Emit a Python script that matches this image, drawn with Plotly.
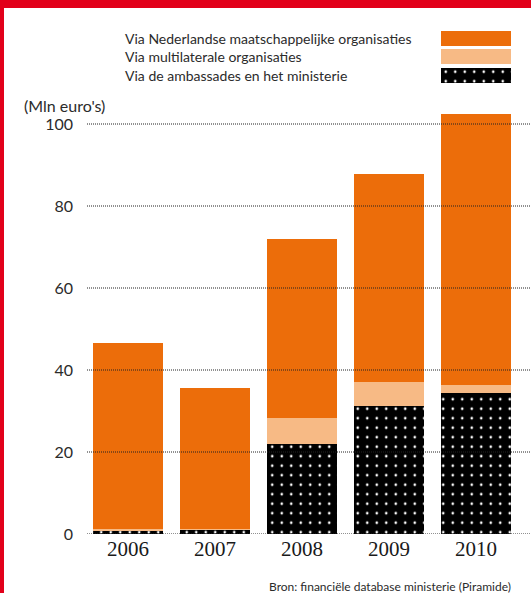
import plotly.graph_objects as go

W, H = 531, 593

years = ["2006", "2007", "2008", "2009", "2010"]
ambassades = [0.8, 1.0, 21.9, 31.2, 34.4]
multilateraal = [0.4, 0.2, 6.4, 5.9, 1.9]
ngo = [45.4, 34.4, 43.7, 50.7, 66.1]
y_ticks = [0, 20, 40, 60, 80, 100]

legend_names = [
    "Via Nederlandse maatschappelijke organisaties",
    "Via multilaterale organisaties",
    "Via de ambassades en het ministerie",
]

ORANGE = "#EC6D0A"
LIGHT = "#F7BA85"
RED = "#E2001A"
TEXT = "#2b2b2b"
DOTS = dict(shape=".", fgcolor="white", bgcolor="black", size=9.5, solidity=0.06, fillmode="replace")


def xp(px):
    return px / W


def yp(py):
    return 1 - py / H


fig = go.Figure()

# stacked bars, bottom to top
fig.add_trace(go.Bar(x=years, y=ambassades, marker=dict(color="black", pattern=DOTS, line=dict(width=0)),
                     name=legend_names[2], showlegend=False))
fig.add_trace(go.Bar(x=years, y=multilateraal, marker=dict(color=LIGHT, line=dict(width=0)),
                     name=legend_names[1], showlegend=False))
fig.add_trace(go.Bar(x=years, y=ngo, marker=dict(color=ORANGE, line=dict(width=0)),
                     name=legend_names[0], showlegend=False))

# legend swatches on their own small axes (text on the left, swatch on the right)
swatch_markers = [
    dict(color=ORANGE, line=dict(width=0)),
    dict(color=LIGHT, line=dict(width=0)),
    dict(color="black", pattern=DOTS, line=dict(width=0)),
]
for i, (name, mk) in enumerate(zip(legend_names, swatch_markers)):
    fig.add_trace(go.Bar(x=[1], y=[i], orientation="h", width=0.81, marker=mk, xaxis="x2", yaxis="y2",
                         showlegend=False, hoverinfo="skip"))
    fig.add_annotation(text=name, xref="paper", yref="y2", x=xp(123), y=i, xanchor="left", yanchor="middle",
                       showarrow=False, font=dict(family="Lato", size=14, color=TEXT))

# dotted gridlines drawn over the bars
for t in y_ticks:
    fig.add_shape(type="line", xref="paper", yref="y", x0=xp(87), x1=1, y0=t, y1=t, layer="above",
                  line=dict(color="#222222", width=1, dash="1px,1px"))

# red frame
fig.add_shape(type="rect", xref="paper", yref="paper", x0=0, x1=1, y0=yp(8), y1=1.01,
              fillcolor=RED, line=dict(width=0), layer="above")
fig.add_shape(type="rect", xref="paper", yref="paper", x0=-0.01, x1=xp(4), y0=-0.01, y1=1.01,
              fillcolor=RED, line=dict(width=0), layer="above")

fig.add_annotation(text="(Mln euro's)", xref="paper", yref="paper", x=xp(22), y=yp(106), xanchor="left",
                   yanchor="middle", showarrow=False, font=dict(family="Lato", size=16, color=TEXT))
fig.add_annotation(text="Bron: financiële database ministerie (Piramide)", xref="paper", yref="paper",
                   x=xp(513), y=yp(586), xanchor="right", yanchor="middle", showarrow=False,
                   font=dict(family="Lato", size=12, color=TEXT))

fig.update_layout(
    width=W,
    height=H,
    margin=dict(l=0, r=0, t=0, b=0),
    barmode="stack",
    bargap=0.195,
    plot_bgcolor="white",
    paper_bgcolor="white",
    showlegend=False,
    xaxis=dict(domain=[xp(87), 1], type="category", range=[-0.471, 4.632], showgrid=False, zeroline=False,
               showline=False, ticks="", automargin=False,
               tickfont=dict(family="Liberation Serif", size=21, color="#1a1a1a")),
    yaxis=dict(domain=[yp(534), yp(100)], range=[0, 434 / 4.1], tickvals=y_ticks, showgrid=False,
               zeroline=False, showline=False, ticks="", ticklabelstandoff=13, automargin=False,
               tickfont=dict(family="Lato", size=16, color=TEXT)),
    xaxis2=dict(domain=[xp(441), xp(511)], anchor="y2", range=[0, 1], visible=False, fixedrange=True),
    yaxis2=dict(domain=[yp(84.5), yp(29)], anchor="x2", range=[2.5, -0.5], visible=False, fixedrange=True),
)

fig.write_html("out.html", config={"displayModeBar": False},
               post_script="document.body.style.margin='0';document.body.style.overflow='hidden';")
